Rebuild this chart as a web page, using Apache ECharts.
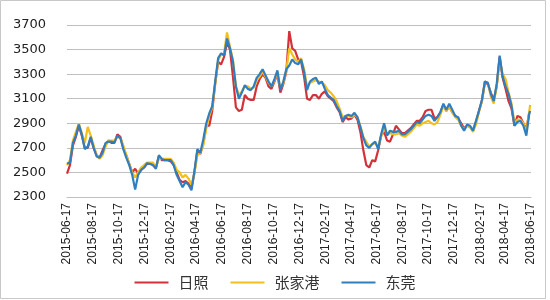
<!DOCTYPE html>
<html>
<head>
<meta charset="utf-8">
<script src="https://cdn.jsdelivr.net/npm/echarts@6/dist/echarts.min.js"></script>
<style>html,body{margin:0;padding:0;background:#fff}#c{width:550px;height:300px}</style>
</head>
<body>
<div id="c"></div>
<script>
var dates = [
'2015-06-17','2015-06-24','2015-07-01','2015-07-08','2015-07-15','2015-07-22','2015-07-29','2015-08-05','2015-08-12','2015-08-19',
'2015-08-26','2015-09-02','2015-09-09','2015-09-16','2015-09-23','2015-09-30','2015-10-07','2015-10-14','2015-10-21','2015-10-28',
'2015-11-04','2015-11-11','2015-11-18','2015-11-25','2015-12-02','2015-12-09','2015-12-16','2015-12-23','2015-12-30','2016-01-06',
'2016-01-13','2016-01-20','2016-01-27','2016-02-03','2016-02-10','2016-02-17','2016-02-24','2016-03-02','2016-03-09','2016-03-16',
'2016-03-23','2016-03-30','2016-04-06','2016-04-13','2016-04-20','2016-04-27','2016-05-04','2016-05-11','2016-05-18','2016-05-25',
'2016-06-01','2016-06-08','2016-06-15','2016-06-22','2016-06-29','2016-07-06','2016-07-13','2016-07-20','2016-07-27','2016-08-03',
'2016-08-10','2016-08-17','2016-08-24','2016-08-31','2016-09-07','2016-09-14','2016-09-21','2016-09-28','2016-10-05','2016-10-12',
'2016-10-19','2016-10-26','2016-11-02','2016-11-09','2016-11-16','2016-11-23','2016-11-30','2016-12-07','2016-12-14','2016-12-21',
'2016-12-28','2017-01-04','2017-01-11','2017-01-18','2017-01-25','2017-02-01','2017-02-08','2017-02-15','2017-02-22','2017-03-01',
'2017-03-08','2017-03-15','2017-03-22','2017-03-29','2017-04-05','2017-04-12','2017-04-19','2017-04-26','2017-05-03','2017-05-10',
'2017-05-17','2017-05-24','2017-05-31','2017-06-07','2017-06-14','2017-06-21','2017-06-28','2017-07-05','2017-07-12','2017-07-19',
'2017-07-26','2017-08-02','2017-08-09','2017-08-16','2017-08-23','2017-08-30','2017-09-06','2017-09-13','2017-09-20','2017-09-27',
'2017-10-04','2017-10-11','2017-10-18','2017-10-25','2017-11-01','2017-11-08','2017-11-15','2017-11-22','2017-11-29','2017-12-06',
'2017-12-13','2017-12-20','2017-12-27','2018-01-03','2018-01-10','2018-01-17','2018-01-24','2018-01-31','2018-02-07','2018-02-14',
'2018-02-21','2018-02-28','2018-03-07','2018-03-14','2018-03-21','2018-03-28','2018-04-04','2018-04-11','2018-04-18','2018-04-25',
'2018-05-02','2018-05-09','2018-05-16','2018-05-23','2018-05-30','2018-06-06','2018-06-13','2018-06-15'
];

var rizhao = [
2490,2560,2720,2790,2880,2800,2700,2700,2780,2700,
2640,2620,2680,2730,2760,2740,2740,2810,2790,2700,
2640,2570,2500,2530,2490,2520,2540,2570,2570,2560,
2540,2630,2600,2600,2600,2590,2560,2500,2440,2420,
2430,2410,2370,2500,2680,2650,2740,2880,2880,3000,
3220,3400,3380,3440,3560,3500,3280,3030,3000,3010,
3130,3100,3090,3090,3200,3260,3300,3270,3200,3180,
3240,3300,3150,3220,3320,3650,3510,3490,3420,3400,
3280,3100,3090,3130,3130,3100,3140,3160,3120,3100,
3080,3030,2990,2910,2950,2930,2940,2970,2930,2830,
2680,2560,2540,2600,2590,2680,2800,2830,2760,2750,
2810,2880,2850,2820,2820,2840,2860,2890,2920,2920,
2950,3000,3010,3010,2940,2950,2990,3050,3000,3040,
2990,2960,2940,2900,2860,2880,2870,2840,2910,3000,
3080,3230,3220,3150,3090,3200,3440,3270,3180,3080,
3020,2880,2960,2950,2900,2850,2990,2990
];

var zhangjiagang = [
2560,2600,2760,2830,2900,2820,2740,2870,2800,2720,
2640,2610,2640,2710,2760,2760,2760,2790,2780,2720,
2640,2570,2500,2460,2500,2540,2560,2580,2580,2580,
2540,2610,2610,2610,2610,2610,2580,2520,2500,2460,
2480,2450,2400,2490,2640,2660,2720,2860,2960,3030,
3220,3410,3460,3470,3640,3520,3420,3200,3130,3160,
3200,3200,3180,3190,3250,3280,3320,3280,3230,3200,
3250,3310,3180,3230,3330,3510,3460,3420,3400,3430,
3340,3200,3230,3240,3250,3240,3230,3210,3170,3150,
3120,3080,3020,2950,2960,2960,2950,2970,2950,2880,
2790,2750,2710,2730,2740,2710,2790,2860,2810,2820,
2810,2810,2820,2800,2790,2810,2830,2860,2890,2880,
2900,2910,2920,2900,2890,2910,2970,3040,3000,3040,
2990,2950,2930,2880,2850,2880,2870,2830,2890,2990,
3080,3240,3230,3120,3060,3200,3420,3300,3260,3150,
3060,2900,2930,2930,2900,2830,3000,3050
];

var dongguan = [
2570,2580,2740,2800,2890,2810,2690,2710,2790,2700,
2630,2620,2660,2740,2750,2750,2745,2800,2780,2690,
2620,2560,2480,2360,2480,2520,2540,2575,2570,2560,
2530,2640,2610,2600,2600,2600,2560,2480,2430,2380,
2420,2400,2355,2510,2690,2660,2770,2900,2980,3040,
3240,3430,3470,3450,3590,3510,3400,3200,3100,3150,
3210,3180,3170,3200,3270,3300,3340,3290,3240,3200,
3260,3330,3170,3240,3340,3370,3420,3390,3380,3420,
3320,3170,3240,3260,3270,3220,3240,3180,3130,3110,
3090,3040,3000,2920,2960,2970,2960,2985,2950,2870,
2780,2720,2700,2730,2750,2690,2810,2900,2800,2840,
2830,2830,2840,2810,2810,2830,2850,2880,2910,2900,
2930,2960,2970,2960,2920,2950,2990,3060,3010,3060,
3010,2960,2950,2880,2840,2890,2880,2840,2920,3000,
3090,3240,3230,3140,3080,3220,3450,3280,3200,3140,
3040,2880,2910,2920,2880,2800,2980,3000
];

var seriesNames = ['日照', '张家港', '东莞'];
var seriesColors = ['#d4313a', '#f4bf1a', '#2f7fc0'];

var tickLabels = [
'2015-06-17','2015-08-17','2015-10-17','2015-12-17','2016-02-17','2016-04-17','2016-06-17','2016-08-17','2016-10-17','2016-12-17',
'2017-02-17','2017-04-17','2017-06-17','2017-08-17','2017-10-17','2017-12-17','2018-02-17','2018-04-17','2018-06-17'
];

function toTs(s) {
  var p = s.split('-');
  return Date.UTC(+p[0], +p[1] - 1, +p[2]);
}
function pad(n) { return n < 10 ? '0' + n : '' + n; }
function fmt(v) {
  var d = new Date(v);
  return d.getUTCFullYear() + '-' + pad(d.getUTCMonth() + 1) + '-' + pad(d.getUTCDate());
}

var valueSets = [rizhao, zhangjiagang, dongguan];
var series = valueSets.map(function (vals, i) {
  return {
    name: seriesNames[i],
    type: 'line',
    symbol: 'none',
    showSymbol: false,
    lineStyle: { width: 2.2, color: seriesColors[i] },
    itemStyle: { color: seriesColors[i] },
    data: dates.map(function (d, k) { return [toTs(d), vals[k]]; }),
    z: 2 + i,
    animation: false
  };
});

var chart = echarts.init(document.getElementById('c'), null, { renderer: 'canvas' });
chart.setOption({
  animation: false,
  backgroundColor: '#ffffff',
  grid: { left: 67, right: 19, top: 25, bottom: 103 },
  xAxis: {
    type: 'value',
    min: toTs(tickLabels[0]),
    max: toTs(tickLabels[tickLabels.length - 1]),
    axisLine: { show: true, onZero: false, lineStyle: { color: '#bfbfbf', width: 1 } },
    axisTick: { show: false },
    splitLine: { show: false },
    axisLabel: {
      customValues: tickLabels.map(toTs),
      formatter: function (v) { return fmt(v); },
      rotate: 90,
      margin: 6,
      color: '#222',
      fontSize: 12,
      fontFamily: 'Liberation Sans',
      hideOverlap: false,
      showMinLabel: true,
      showMaxLabel: true
    }
  },
  yAxis: {
    type: 'value',
    min: 2300,
    max: 3700,
    interval: 200,
    axisLine: { show: false },
    axisTick: { show: false },
    splitLine: { show: true, lineStyle: { color: '#bfbfbf', width: 1 } },
    axisLabel: {
      formatter: function (v) { return String(v); },
      color: '#222',
      fontSize: 13,
      fontFamily: 'DejaVu Sans',
      margin: 21
    }
  },
  legend: {
    data: seriesNames.map(function (n) { return { name: n, icon: 'rect' }; }),
    left: 'center',
    top: 270,
    itemWidth: 34,
    itemHeight: 2,
    itemGap: 22,
    textStyle: {
      fontSize: 15,
      fontFamily: 'Noto Sans CJK SC',
      color: '#333',
      padding: [0, 0, 0, 5]
    }
  },
  graphic: [{
    type: 'rect',
    shape: { x: 0.5, y: 0.5, width: 545, height: 298 },
    style: { fill: 'none', stroke: '#c8c8c8', lineWidth: 1 },
    silent: true
  }],
  series: series
});
</script>
</body>
</html>
